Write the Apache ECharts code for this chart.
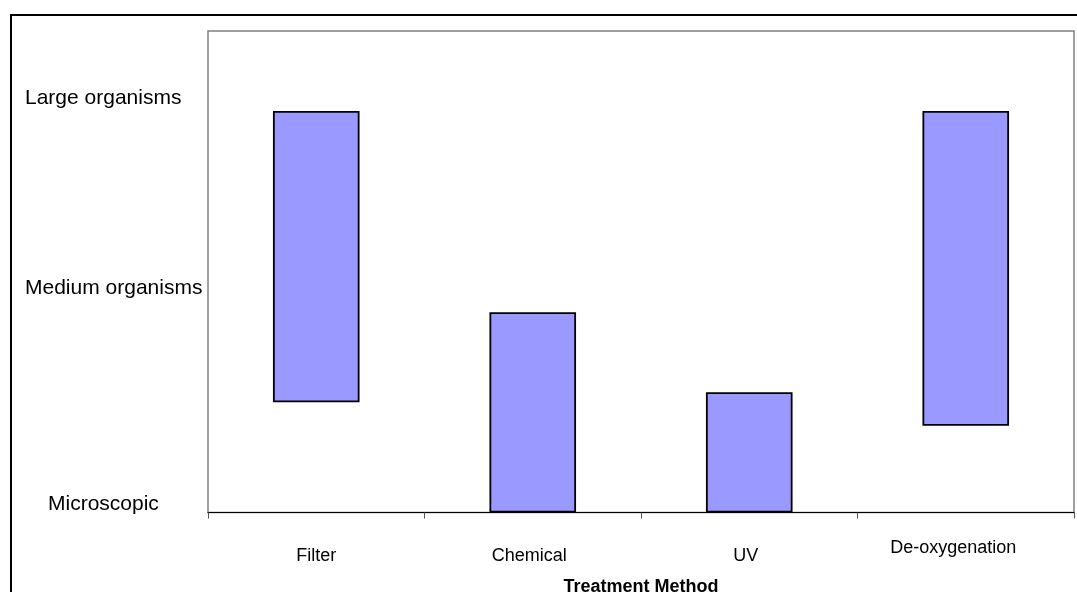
<!DOCTYPE html>
<html>
<head>
<meta charset="utf-8">
<script src="https://cdn.jsdelivr.net/npm/echarts@6/dist/echarts.min.js"></script>
<style>
  html, body { margin: 0; padding: 0; background: #fff; }
  #chart { width: 1077px; height: 592px; }
</style>
</head>
<body>
<div id="chart"></div>
<script>
// ---- data ----
var categories = ['Filter', 'Chemical', 'UV', 'De-oxygenation'];
var lowValues  = [22.9, 0, 0, 18.0];
var highValues = [83.4, 41.6, 25.0, 83.4];
var yLabelValues = [1.7, 46.6, 86.0];
var yLabels = ['Microscopic', 'Medium organisms', 'Large organisms'];
var xAxisTitle = 'Treatment Method';

// ---- styling (positions only, not data) ----
var FONT = '"Liberation Sans", Arial, sans-serif';
var xLabelStyleKey = { 'Filter': 'a', 'Chemical': 'b', 'UV': 'b', 'De-oxygenation': 'd' };
var yLabelStyleKey = { 'Microscopic': 'm', 'Medium organisms': 'a', 'Large organisms': 'a' };

var spans = highValues.map(function (h, i) { return h - lowValues[i]; });

var chart = echarts.init(document.getElementById('chart'), null, { renderer: 'canvas' });
chart.setOption({
  backgroundColor: '#ffffff',
  animation: false,
  graphic: [{
    type: 'rect',
    shape: { x: 11, y: 15, width: 1300, height: 900 },
    style: { fill: null, stroke: '#000000', lineWidth: 2 },
    silent: true,
    z: 100
  }],
  grid: {
    left: 208, top: 31, width: 866, height: 481.5,
    containLabel: false,
    outerBoundsMode: 'none',
    show: true, borderColor: '#808080', borderWidth: 1.5, backgroundColor: 'transparent'
  },
  xAxis: {
    type: 'category',
    data: categories,
    boundaryGap: true,
    axisLine: { show: true, lineStyle: { color: '#000000', width: 1 } },
    axisTick: { show: true, length: 6, alignWithLabel: false, lineStyle: { color: '#555555' } },
    axisLabel: {
      margin: 53,
      verticalAlign: 'bottom',
      fontFamily: FONT,
      fontSize: 18,
      color: '#000000',
      formatter: function (v) { return '{' + (xLabelStyleKey[v] || 'a') + '|' + v + '}'; },
      rich: {
        a: { fontFamily: FONT, fontSize: 18, color: '#000' },
        b: { fontFamily: FONT, fontSize: 18, color: '#000', padding: [0, 7, 0, 0] },
        d: { fontFamily: FONT, fontSize: 18, color: '#000', padding: [0, 25, 8, 0] }
      }
    },
    name: xAxisTitle,
    nameLocation: 'middle',
    nameGap: 66,
    nameTextStyle: { fontFamily: FONT, fontSize: 18, fontWeight: 'bold', color: '#000000' },
    splitLine: { show: false }
  },
  yAxis: {
    type: 'value',
    min: 0,
    max: 100,
    axisLine: { show: false },
    axisTick: { show: false },
    splitLine: { show: false },
    axisLabel: {
      show: true,
      customValues: yLabelValues,
      align: 'left',
      margin: 183,
      fontFamily: FONT,
      fontSize: 21,
      color: '#000000',
      formatter: function (v) {
        var best = 0, bd = Infinity;
        for (var i = 0; i < yLabelValues.length; i++) {
          var d = Math.abs(yLabelValues[i] - v);
          if (d < bd) { bd = d; best = i; }
        }
        var t = yLabels[best];
        return '{' + (yLabelStyleKey[t] || 'a') + '|' + t + '}';
      },
      rich: {
        a: { fontFamily: FONT, fontSize: 21, color: '#000' },
        m: { fontFamily: FONT, fontSize: 21, color: '#000', padding: [0, 0, 0, 23] }
      }
    }
  },
  series: [
    {
      type: 'bar',
      stack: 'range',
      data: lowValues,
      barWidth: '40%',
      itemStyle: { color: 'transparent', borderWidth: 0 },
      silent: true
    },
    {
      type: 'bar',
      stack: 'range',
      data: spans,
      barWidth: '40%',
      itemStyle: { color: '#9999FF', borderColor: '#000000', borderWidth: 1.8 }
    }
  ]
});
</script>
</body>
</html>
